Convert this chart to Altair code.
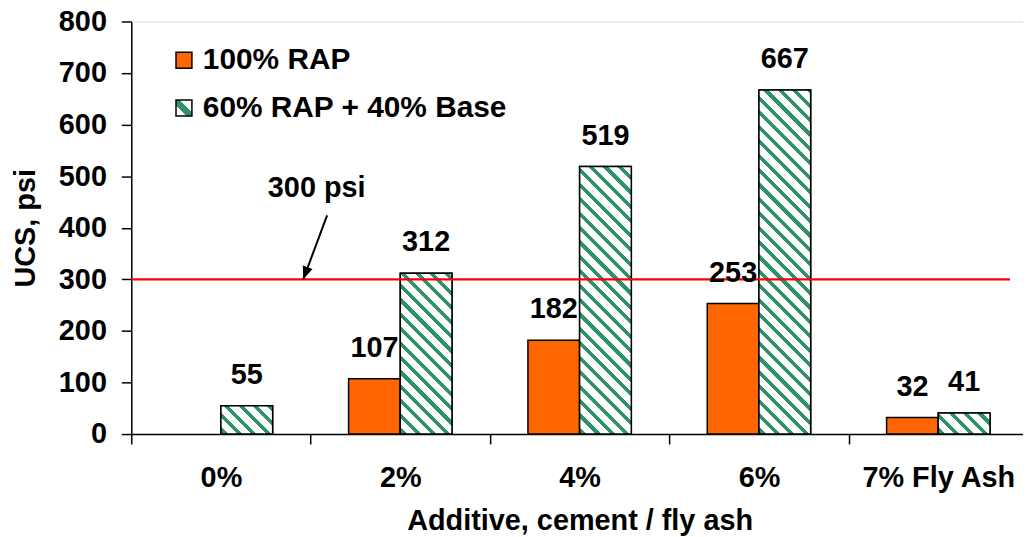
import altair as alt
import pandas as pd

# ---------------- data ----------------
categories = ["0%", "2%", "4%", "6%", "7% Fly Ash"]
series = ["100% RAP", "60% RAP + 40% Base"]
rap100 = [None, 107, 182, 253, 32]
rap60_base40 = [55, 312, 519, 667, 41]
y_ticks = [0, 100, 200, 300, 400, 500, 600, 700, 800]

threshold = 300
threshold_label = "300 psi"
# annotation positions: x in category-index units (0..5), y in psi
threshold_x_end = 4.9
label_x, label_y = 1.034, 459
arrow_tail_x, arrow_tail_y = 1.092, 424
arrow_tip_x, arrow_tip_y = 0.959, 300

# ---------------- styling ----------------
FONT = "Liberation Sans, Arial, sans-serif"
FS = 29
ORANGE = "#FF6600"
GREEN = "#2E9467"
W, H = 897, 415
XR = 902            # x range (extends slightly past the visible area)
YMAX = 800
OFF_PAD = 0.7346    # outer padding of the offset scale -> narrow bars
step = XR / len(categories)
bar_w = step / (2 + 2 * OFF_PAD)

rows = []
for c, a, b in zip(categories, rap100, rap60_base40):
    if a is not None:
        rows.append({"category": c, "series": series[0], "value": a})
    if b is not None:
        rows.append({"category": c, "series": series[1], "value": b})
df = pd.DataFrame(rows)


def hatch_gradient(w, h, period=14.5, green_w=5.2, phase=2.0):
    L = w + h
    k = L / (w * w + h * h)
    stops = [{"offset": 0, "color": "white"}]
    s = phase - period
    while s < L:
        a, b = max(s, 0.0), min(s + green_w, L)
        if b > a:
            stops += [
                {"offset": round(a / L, 5), "color": "white"},
                {"offset": round(a / L, 5), "color": GREEN},
                {"offset": round(b / L, 5), "color": GREEN},
                {"offset": round(b / L, 5), "color": "white"},
            ]
        s += period
    stops.append({"offset": 1, "color": "white"})
    return {"gradient": "linear", "x1": 0, "y1": 1,
            "x2": round(k * w, 5), "y2": round(1 - k * h, 5), "stops": stops}


legend_grad = {"gradient": "linear", "x1": 0, "y1": 1, "x2": 1, "y2": 0,
               "stops": [{"offset": 0, "color": "white"},
                         {"offset": 0.34, "color": "white"},
                         {"offset": 0.34, "color": GREEN},
                         {"offset": 0.62, "color": GREEN},
                         {"offset": 0.62, "color": "white"},
                         {"offset": 1, "color": "white"}]}

axis_common = dict(
    labelFont=FONT, labelFontSize=FS, labelFontWeight="bold", labelColor="black",
    titleFont=FONT, titleFontSize=FS, titleFontWeight="bold", titleColor="black",
    domainColor="black", domainWidth=1.5, tickColor="black", tickWidth=1.5,
    tickSize=10, grid=False,
)

x_scale = alt.Scale(domain=categories, range=[0, XR], paddingInner=0, paddingOuter=0)
x_enc = alt.X(
    "category:N", sort=categories, scale=x_scale,
    axis=alt.Axis(title="Additive, cement / fly ash", tickBand="extent", labelAngle=0,
                  labelPadding=20, titlePadding=14, **axis_common),
)
x_enc_plain = alt.X("category:N", sort=categories, scale=x_scale, axis=None)
xoff_enc = alt.XOffset(
    "series:N", sort=series,
    scale=alt.Scale(domain=series, paddingInner=0, paddingOuter=OFF_PAD),
)
y_axis = alt.Axis(title="UCS, psi", values=y_ticks, labelPadding=15, titlePadding=18,
                  **axis_common)
y_scale = alt.Scale(domain=[0, YMAX], nice=False)
y_enc = alt.Y("value:Q", scale=y_scale, axis=y_axis)

legend_common = dict(
    orient="none", direction="vertical", title=None,
    symbolType="square", symbolSize=256, symbolStrokeColor="black", symbolStrokeWidth=1.5,
    labelFont=FONT, labelFontSize=30, labelFontWeight="bold", labelColor="black",
    labelOffset=4, labelLimit=0, padding=0, legendX=38,
)

bars = alt.Chart(df).mark_bar(stroke="black", strokeWidth=1.5).encode(
    x=x_enc, xOffset=xoff_enc, y=y_enc,
    color=alt.Color("series:N", scale=alt.Scale(domain=series, range=[ORANGE, GREEN]),
                    legend=alt.Legend(values=[series[0]], legendY=24, **legend_common)),
)

# legend-only layer for the hatched series (draws no bars)
legend_layer = (
    alt.Chart(df)
    .transform_filter("false")
    .transform_calculate(hatched="datum.series")
    .mark_bar(fill=legend_grad, strokeWidth=1.5)
    .encode(
        x=x_enc, xOffset=xoff_enc, y=y_enc,
        stroke=alt.Stroke(
            "hatched:N", scale=alt.Scale(domain=[series[1]], range=["black"]),
            legend=alt.Legend(legendY=72, **legend_common),
        ),
    )
)

hatch_layers = []
for c, v in zip(categories, rap60_base40):
    if v is None:
        continue
    h = v / YMAX * H
    hatch_layers.append(
        alt.Chart(df)
        .transform_filter((alt.datum.series == series[1]) & (alt.datum.category == c))
        .mark_bar(fill=hatch_gradient(bar_w, h), stroke="black", strokeWidth=1.5)
        .encode(x=x_enc, xOffset=xoff_enc, y=y_enc)
    )

# threshold + annotation (quantitative x in category-index units)
ann_x = alt.Scale(domain=[0, len(categories)], range=[0, XR], nice=False, zero=False)
thr_df = pd.DataFrame([{"x": 0, "x2": threshold_x_end, "value": threshold}])
thr = alt.Chart(thr_df).mark_rule(color="#FF0000", strokeWidth=2.2).encode(
    x=alt.X("x:Q", scale=ann_x, axis=None), x2="x2:Q", y=y_enc,
)
arrow_df = pd.DataFrame([{"x": arrow_tail_x, "value": arrow_tail_y,
                          "x2": arrow_tip_x, "value2": arrow_tip_y}])
arrow_line = alt.Chart(arrow_df).mark_rule(color="black", strokeWidth=2).encode(
    x=alt.X("x:Q", scale=ann_x, axis=None), x2="x2:Q", y=y_enc, y2="value2:Q",
)
head_df = pd.DataFrame([{"x": arrow_tip_x, "value": arrow_tip_y}])
arrow_head = alt.Chart(head_df).mark_point(
    shape="M0,0L-0.4,-1L0.4,-1Z", size=676, filled=True, color="black", opacity=1,
    angle=20,
).encode(x=alt.X("x:Q", scale=ann_x, axis=None), y=y_enc)
lab_df = pd.DataFrame([{"x": label_x, "value": label_y, "t": threshold_label}])
ann_text = alt.Chart(lab_df).mark_text(
    font=FONT, fontSize=FS, fontWeight="bold", color="black", baseline="alphabetic",
    align="center",
).encode(x=alt.X("x:Q", scale=ann_x, axis=None), y=y_enc, text="t:N")

labels = alt.Chart(df).mark_text(
    font=FONT, fontSize=FS, fontWeight="bold", color="black", dy=-31, baseline="middle",
).encode(x=x_enc_plain, xOffset=xoff_enc, y=y_enc, text="value:Q")

bar_group = alt.layer(bars, legend_layer, *hatch_layers)
ann_group = alt.layer(thr, arrow_line, arrow_head, ann_text)
label_group = alt.layer(labels)

chart = (
    alt.layer(bar_group, ann_group, label_group)
    .resolve_scale(x="independent")
    .properties(
        width=W, height=H,
        autosize=alt.AutoSizeParams(type="none"),
        padding={"left": 124, "top": 12, "right": 0, "bottom": 102},
    )
    .configure_view(stroke=None)
    .configure(background="white")
)

chart.save("out.html", embed_options={"renderer": "svg", "actions": False})
